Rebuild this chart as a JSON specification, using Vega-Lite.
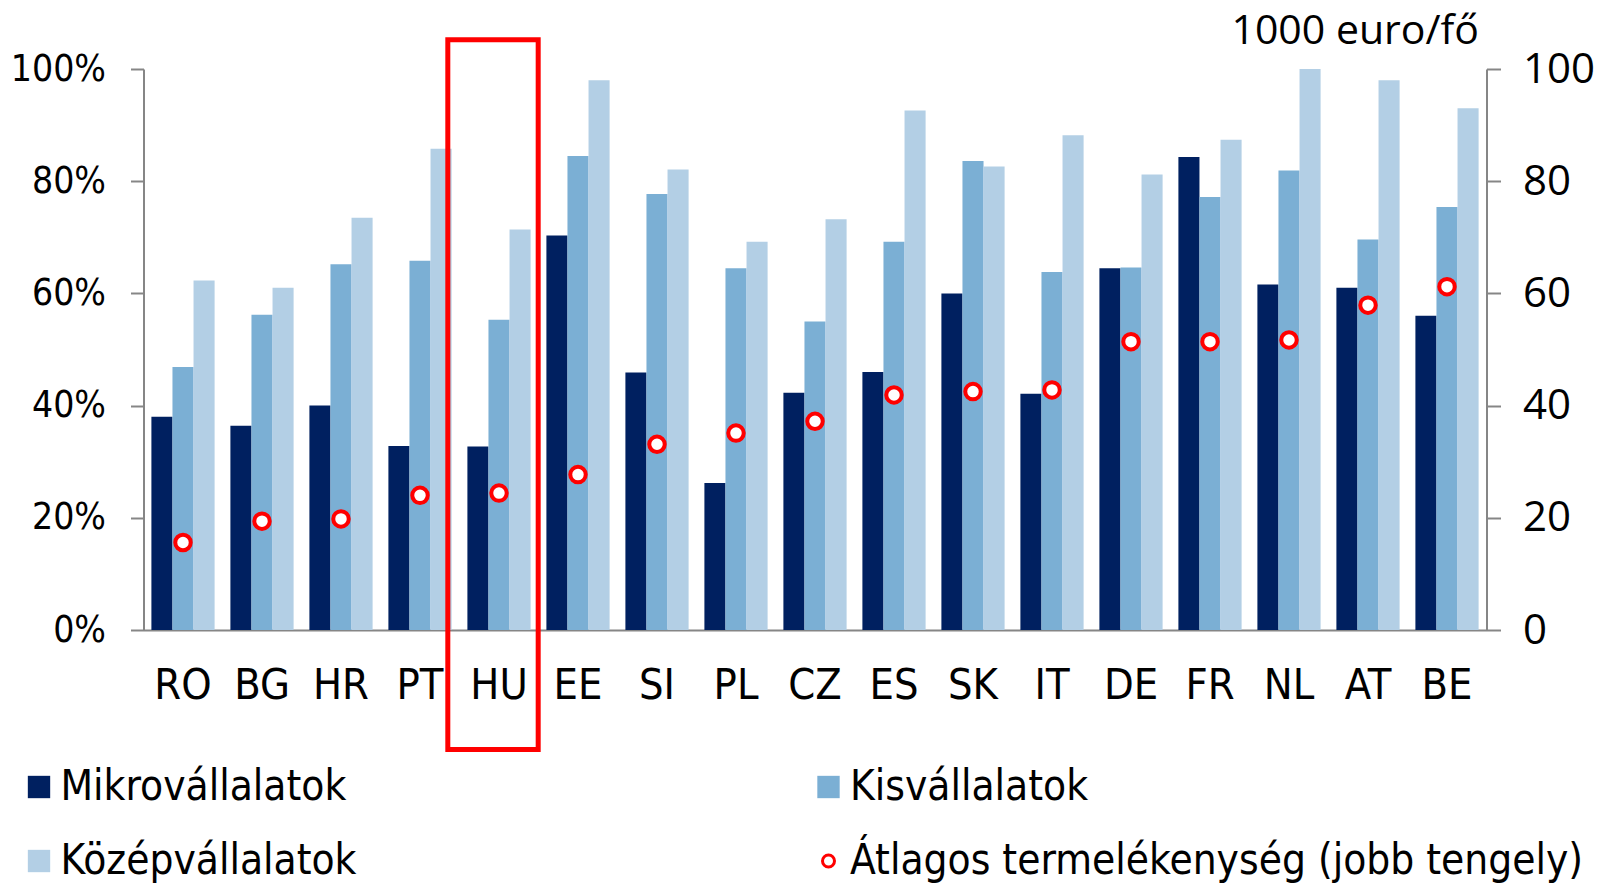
{
  "$schema": "https://vega.github.io/schema/vega-lite/v6.json",
  "width": 1343,
  "height": 561,
  "autosize": "none",
  "padding": {"left": 143.5, "top": 69, "right": 116.5, "bottom": 255},
  "background": "white",
  "config": {
    "view": {"stroke": null},
    "axis": {"grid": false, "domainColor": "#868686", "domainWidth": 2, "tickColor": "#868686", "tickWidth": 2, "labelColor": "#000000"}
  },
  "datasets": {
    "bars": [
      {"c": "RO", "k": "Mikrovállalatok", "v": 38.0}, {"c": "RO", "k": "Kisvállalatok", "v": 46.9}, {"c": "RO", "k": "Középvállalatok", "v": 62.3},
      {"c": "BG", "k": "Mikrovállalatok", "v": 36.4}, {"c": "BG", "k": "Kisvállalatok", "v": 56.2}, {"c": "BG", "k": "Középvállalatok", "v": 61.0},
      {"c": "HR", "k": "Mikrovállalatok", "v": 40.0}, {"c": "HR", "k": "Kisvállalatok", "v": 65.2}, {"c": "HR", "k": "Középvállalatok", "v": 73.5},
      {"c": "PT", "k": "Mikrovállalatok", "v": 32.8}, {"c": "PT", "k": "Kisvállalatok", "v": 65.8}, {"c": "PT", "k": "Középvállalatok", "v": 85.8},
      {"c": "HU", "k": "Mikrovállalatok", "v": 32.7}, {"c": "HU", "k": "Kisvállalatok", "v": 55.3}, {"c": "HU", "k": "Középvállalatok", "v": 71.4},
      {"c": "EE", "k": "Mikrovállalatok", "v": 70.3}, {"c": "EE", "k": "Kisvállalatok", "v": 84.5}, {"c": "EE", "k": "Középvállalatok", "v": 98.0},
      {"c": "SI", "k": "Mikrovállalatok", "v": 45.9}, {"c": "SI", "k": "Kisvállalatok", "v": 77.7}, {"c": "SI", "k": "Középvállalatok", "v": 82.1},
      {"c": "PL", "k": "Mikrovállalatok", "v": 26.2}, {"c": "PL", "k": "Kisvállalatok", "v": 64.5}, {"c": "PL", "k": "Középvállalatok", "v": 69.2},
      {"c": "CZ", "k": "Mikrovállalatok", "v": 42.3}, {"c": "CZ", "k": "Kisvállalatok", "v": 55.0}, {"c": "CZ", "k": "Középvállalatok", "v": 73.2},
      {"c": "ES", "k": "Mikrovállalatok", "v": 46.0}, {"c": "ES", "k": "Kisvállalatok", "v": 69.2}, {"c": "ES", "k": "Középvállalatok", "v": 92.6},
      {"c": "SK", "k": "Mikrovállalatok", "v": 60.0}, {"c": "SK", "k": "Kisvállalatok", "v": 83.6}, {"c": "SK", "k": "Középvállalatok", "v": 82.6},
      {"c": "IT", "k": "Mikrovállalatok", "v": 42.1}, {"c": "IT", "k": "Kisvállalatok", "v": 63.8}, {"c": "IT", "k": "Középvállalatok", "v": 88.2},
      {"c": "DE", "k": "Mikrovállalatok", "v": 64.5}, {"c": "DE", "k": "Kisvállalatok", "v": 64.6}, {"c": "DE", "k": "Középvállalatok", "v": 81.2},
      {"c": "FR", "k": "Mikrovállalatok", "v": 84.3}, {"c": "FR", "k": "Kisvállalatok", "v": 77.2}, {"c": "FR", "k": "Középvállalatok", "v": 87.4},
      {"c": "NL", "k": "Mikrovállalatok", "v": 61.6}, {"c": "NL", "k": "Kisvállalatok", "v": 81.9}, {"c": "NL", "k": "Középvállalatok", "v": 100.0},
      {"c": "AT", "k": "Mikrovállalatok", "v": 61.0}, {"c": "AT", "k": "Kisvállalatok", "v": 69.6}, {"c": "AT", "k": "Középvállalatok", "v": 98.0},
      {"c": "BE", "k": "Mikrovállalatok", "v": 56.0}, {"c": "BE", "k": "Kisvállalatok", "v": 75.4}, {"c": "BE", "k": "Középvállalatok", "v": 93.0}
    ],
    "prod": [
      {"c": "RO", "p": 15.6}, {"c": "BG", "p": 19.4}, {"c": "HR", "p": 19.8}, {"c": "PT", "p": 24.0},
      {"c": "HU", "p": 24.4}, {"c": "EE", "p": 27.7}, {"c": "SI", "p": 33.1}, {"c": "PL", "p": 35.1},
      {"c": "CZ", "p": 37.2}, {"c": "ES", "p": 41.9}, {"c": "SK", "p": 42.5}, {"c": "IT", "p": 42.8},
      {"c": "DE", "p": 51.4}, {"c": "FR", "p": 51.4}, {"c": "NL", "p": 51.7}, {"c": "AT", "p": 57.9},
      {"c": "BE", "p": 61.2}
    ],
    "box": [
      {"c": "HU", "top": 105.2, "bot": -21.3}
    ]
  },
  "layer": [
    {
      "data": {"name": "bars"},
      "mark": {"type": "bar"},
      "encoding": {
        "x": {
          "field": "c", "type": "nominal",
          "sort": ["RO","BG","HR","PT","HU","EE","SI","PL","CZ","ES","SK","IT","DE","FR","NL","AT","BE"],
          "scale": {"paddingInner": 0.2, "paddingOuter": 0.1},
          "axis": {"title": null, "ticks": false, "labelAngle": 0, "labelPadding": 34, "labelFont": "Liberation Sans Narrow, DejaVu Sans Condensed, sans-serif", "labelFontSize": 43}
        },
        "xOffset": {
          "field": "k", "type": "nominal",
          "sort": ["Mikrovállalatok", "Kisvállalatok", "Középvállalatok"],
          "scale": {"paddingInner": 0, "paddingOuter": 0}
        },
        "y": {
          "field": "v", "type": "quantitative",
          "scale": {"domain": [0, 100], "nice": false},
          "axis": {"title": null, "values": [0, 20, 40, 60, 80, 100], "labelExpr": "datum.value + '%'", "tickSize": 13, "labelPadding": 25, "labelFont": "Liberation Sans Narrow, DejaVu Sans Condensed, sans-serif", "labelFontSize": 37}
        },
        "color": {
          "field": "k", "type": "nominal", "title": null,
          "scale": {
            "domain": ["Mikrovállalatok", "Kisvállalatok", "Középvállalatok", "Átlagos termelékenység (jobb tengely)"],
            "range": ["#002060", "#7BAFD4", "#B3CFE5", "#ffffff"]
          },
          "legend": {
            "orient": "none", "legendX": -125.5, "legendY": 697, "direction": "horizontal",
            "columns": 2, "columnPadding": 450.5, "rowPadding": 32,
            "symbolType": "square", "symbolSize": 500,
            "labelFont": "DejaVu Sans Condensed, Liberation Sans Narrow, sans-serif", "labelFontSize": 42, "labelColor": "#000000",
            "labelOffset": 0.5, "labelLimit": 1200,
            "encode": {
              "symbols": {
                "update": {
                  "shape": {"signal": "datum.value === 'Átlagos termelékenység (jobb tengely)' ? 'circle' : 'square'"},
                  "size": {"signal": "datum.value === 'Átlagos termelékenység (jobb tengely)' ? 144 : 500"},
                  "fill": {"signal": "datum.value === 'Átlagos termelékenység (jobb tengely)' ? '#ffffff' : datum.value === 'Mikrovállalatok' ? '#002060' : datum.value === 'Kisvállalatok' ? '#7BAFD4' : '#B3CFE5'"},
                  "stroke": {"signal": "datum.value === 'Átlagos termelékenység (jobb tengely)' ? '#ff0000' : null"},
                  "strokeWidth": {"signal": "datum.value === 'Átlagos termelékenység (jobb tengely)' ? 3 : 0"},
                  "opacity": {"value": 1}
                }
              }
            }
          }
        }
      }
    },
    {
      "data": {"name": "prod"},
      "mark": {"type": "point", "shape": "circle", "filled": true, "fill": "#ffffff", "stroke": "#ff0000", "strokeWidth": 4, "size": 240, "opacity": 1},
      "encoding": {
        "x": {"field": "c", "type": "nominal", "sort": ["RO","BG","HR","PT","HU","EE","SI","PL","CZ","ES","SK","IT","DE","FR","NL","AT","BE"]},
        "y": {
          "field": "p", "type": "quantitative",
          "scale": {"domain": [0, 100], "nice": false},
          "axis": {
            "orient": "right", "values": [0, 20, 40, 60, 80, 100], "tickSize": 14, "labelPadding": 22,
            "labelFont": "Open Sans, sans-serif", "labelFontSize": 42,
            "title": "1000 euro/fő", "titleAngle": 0, "titleAlign": "right", "titleBaseline": "alphabetic",
            "titleX": -8, "titleY": -26, "titleFont": "Open Sans, sans-serif", "titleFontSize": 41, "titleFontWeight": "normal", "titleColor": "#000000"
          }
        }
      }
    },
    {
      "data": {"name": "box"},
      "mark": {"type": "rect", "filled": false, "stroke": "#ff0000", "strokeWidth": 5, "width": {"band": 1.43}, "xOffset": -6, "clip": false},
      "encoding": {
        "x": {"field": "c", "type": "nominal", "sort": ["RO","BG","HR","PT","HU","EE","SI","PL","CZ","ES","SK","IT","DE","FR","NL","AT","BE"]},
        "y": {"field": "top", "type": "quantitative", "scale": {"domain": [0, 100], "nice": false}, "axis": null},
        "y2": {"field": "bot"}
      }
    }
  ],
  "resolve": {"scale": {"y": "independent"}}
}
